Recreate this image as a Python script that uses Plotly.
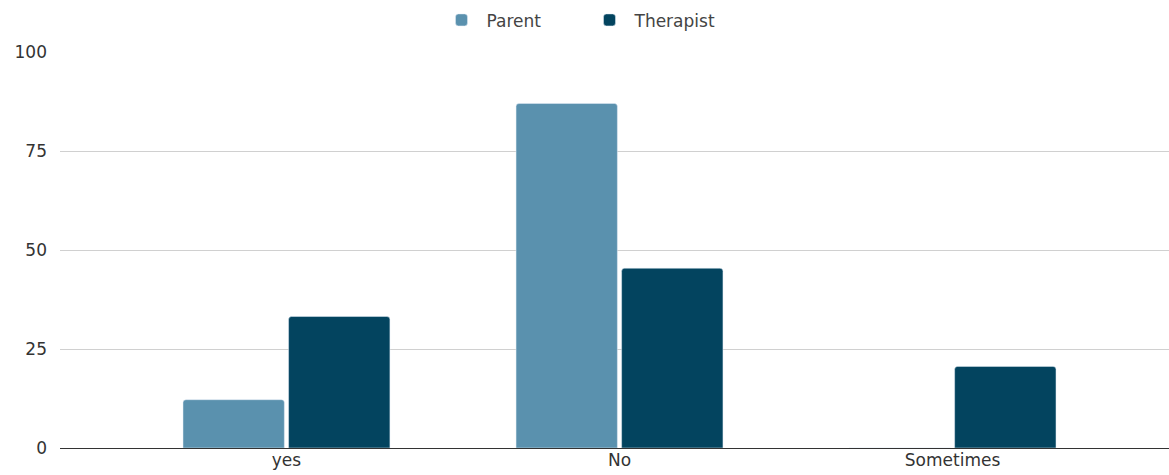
import plotly.graph_objects as go

categories = ["yes", "No", "Sometimes"]
parent = [12.2, 87.0, 0]
therapist = [33.2, 45.4, 20.6]

fig = go.Figure()
fig.add_trace(go.Bar(name="Parent", x=categories, y=parent, marker_color="#5a91ae"))
fig.add_trace(go.Bar(name="Therapist", x=categories, y=therapist, marker_color="#03445f"))

fig.update_layout(
    width=1169, height=475,
    margin=dict(l=60, r=0, t=52, b=27),
    paper_bgcolor="white", plot_bgcolor="white",
    barmode="group", bargap=0.366, bargroupgap=0.04, barcornerradius=3,
    font=dict(family="DejaVu Sans, Arial, sans-serif", size=17, color="#444444"),
    legend=dict(orientation="h", x=0.5, xanchor="center", xref="container",
                y=0.995, yanchor="top", yref="container",
                font=dict(size=17, color="#444444"), itemwidth=40,
                entrywidth=93, entrywidthmode="pixels"),
    showlegend=True,
)
fig.update_xaxes(range=[-0.68, 2.65], showgrid=False, showline=False, ticks="",
                 tickfont=dict(size=17, color="#333333"))
fig.update_yaxes(range=[0, 100], tickvals=[0, 25, 50, 75, 100], showgrid=True,
                 gridcolor="#d0d0d0", gridwidth=1, zeroline=True, zerolinecolor="#333333",
                 zerolinewidth=1, showline=False, ticklabelstandoff=12,
                 tickfont=dict(size=17, color="#333333"))

fig.write_html("out.html")
